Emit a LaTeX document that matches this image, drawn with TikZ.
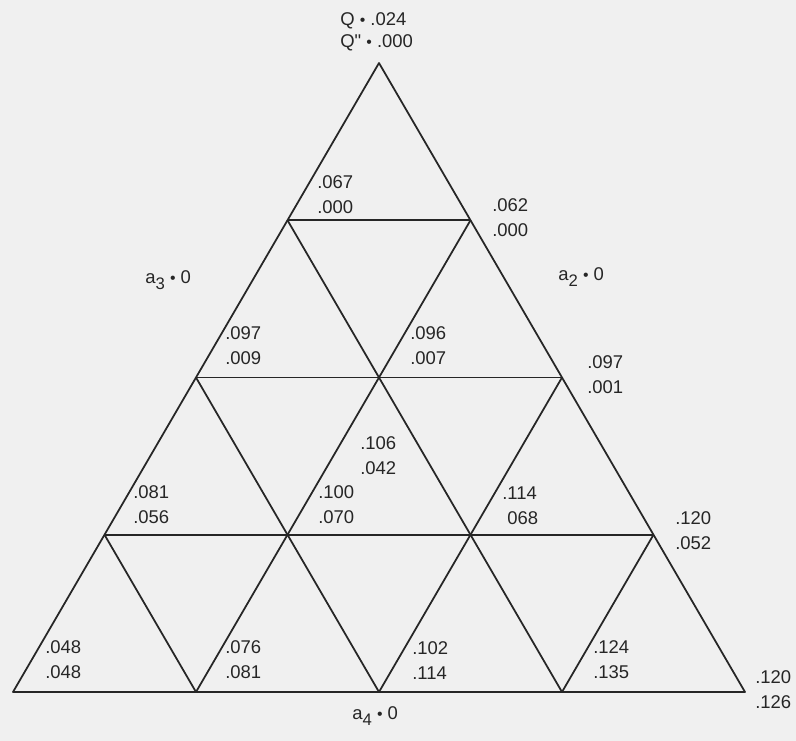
\documentclass[tikz,border=0pt]{standalone}
\usepackage{fontspec}
\setmainfont{Liberation Sans}
\usepackage{tikz}
\usetikzlibrary{positioning,calc}

\begin{document}
\begin{tikzpicture}[
    x=0.02cm, y=-0.02cm,
    grid/.style={line width=1pt, draw=black!85, line join=round},
    val/.style={anchor=west, inner sep=0pt, align=left,
                font=\fontsize{10.5}{14.2}\selectfont, text=black!85},
    axis/.style={anchor=west, inner sep=0pt, font=\fontsize{10.5}{13}\selectfont, text=black!85},
  ]
  \def\sub#1{\raisebox{-0.6ex}{\fontsize{9.5}{10}\selectfont #1}}

  % --- Background and page size ---
  \fill[black!6] (0,0) rectangle (796,741);
  \useasboundingbox (0,0) rectangle (796,741);

  % --- Lattice points (column i, row j from bottom) ---
  \foreach \j in {0,...,4} {
    \pgfmathtruncatemacro\imax{4-\j}
    \foreach \i in {0,...,\imax} {
      \coordinate (p\i\j) at ({13+183*\i+91.5*\j}, {692-157.25*\j});
    }
  }

  % --- Triangle and subdivision ---
  \draw[grid] (p00) -- (p40) -- (p04) -- cycle;
  \foreach \j in {1,2,3} {
    \pgfmathtruncatemacro\k{4-\j}
    \draw[grid] (p0\j) -- (p\k\j);
  }
  \foreach \i in {1,2,3} {
    \pgfmathtruncatemacro\k{4-\i}
    \draw[grid] (p\i0) -- (p\i\k);
    \draw[grid] (p\i0) -- (p0\i);
  }

  % --- Apex ---
  \node[val, font=\fontsize{10.5}{12.5}\selectfont] (qtop) at (340, 32)
    {Q {\small\textbullet} .024\\Q\textquotedbl{} {\small\textbullet} .000};

  % --- Values (Q above, Q" below) ---
  \foreach \x/\y/\a/\b [count=\n] in {
      317/195/.067/.000, 492/218/.062/.000,
      225/346/.097/.009, 410/346/.096/.007, 587/375/.097/.001,
      360/456/.106/.042,
      133/505/.081/.056, 318/505/.100/.070, 502/506/.114/\phantom{.}068, 675/531/.120/.052,
      45/660/.048/.048, 225/660/.076/.081, 412/661/.102/.114, 593/660/.124/.135,
      755/690/.120/.126} {
    \node[val] (v\n) at (\x, \y) {\a\\\b};
  }

  % --- Side labels ---
  \node[axis] (a3) at (145, 280) {a\sub{3} {\small\textbullet} 0};
  \node[axis] (a2) at (558, 277) {a\sub{2} {\small\textbullet} 0};
  \node[axis] (a4) at (352, 716) {a\sub{4} {\small\textbullet} 0};
\end{tikzpicture}
\end{document}
